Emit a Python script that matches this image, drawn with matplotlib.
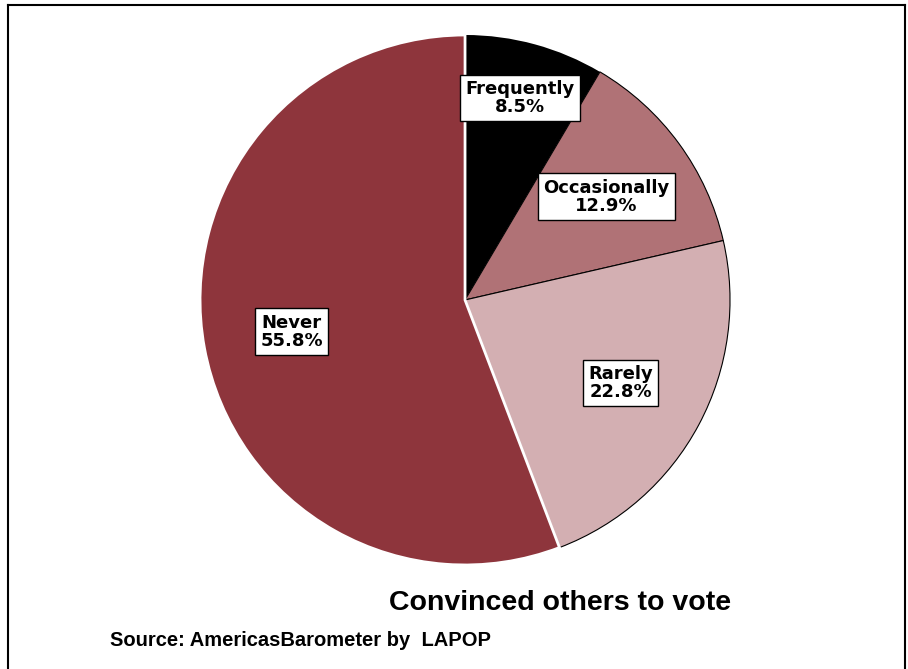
import numpy as np
import matplotlib.pyplot as plt
from matplotlib.lines import Line2D

categories = ["Frequently", "Occasionally", "Rarely", "Never"]
values = [8.5, 12.9, 22.8, 55.8]
colors = ["#000000", "#B07276", "#D3AFB2", "#8E353C"]
edge_colors = ["none", "black", "black", "white"]
edge_widths = [0, 0.8, 0.8, 2]
label_dist = [0.79, 0.66, 0.665, 0.665]

title = "Convinced others to vote"
source = "Source: AmericasBarometer by  LAPOP"

fig = plt.figure(figsize=(9.08, 6.69), dpi=100)
ax = fig.add_axes([0.2203, 0.1555, 0.5837, 0.7922])

wedges, _ = ax.pie(values, colors=colors, startangle=90, counterclock=False, radius=1)
for w, ec, lw in zip(wedges, edge_colors, edge_widths):
    w.set_edgecolor(ec)
    w.set_linewidth(lw)
ax.set_xlim(-1, 1)
ax.set_ylim(-1, 1)
ax.set_aspect("equal")

# labels in white boxes at each slice's middle angle
for w, cat, val, d in zip(wedges, categories, values, label_dist):
    ang = np.deg2rad((w.theta1 + w.theta2) / 2)
    ax.text(d * np.cos(ang), d * np.sin(ang), f"{cat}\n{val:.1f}%",
            ha="center", va="center", fontsize=13, fontweight="bold",
            family="DejaVu Sans", linespacing=1.0,
            bbox=dict(boxstyle="square,pad=0.3", facecolor="white",
                      edgecolor="black", linewidth=1))

fig.text(560 / 908, 1 - 603 / 669, title, ha="center", va="center",
         fontsize=20.5, fontweight="bold", family="Liberation Sans")
fig.text(110 / 908, 1 - 640 / 669, source, ha="left", va="center",
         fontsize=14.5, fontweight="bold", family="Liberation Sans")

# frame (no bottom edge visible)
x0, x1, y0 = 8 / 908, 905 / 908, 1 - 5 / 669
for xs, ys in [([x0, x0], [0, y0]), ([x0, x1], [y0, y0]), ([x1, x1], [y0, 0])]:
    fig.add_artist(Line2D(xs, ys, color="black", linewidth=1.5,
                          transform=fig.transFigure))

plt.savefig("out.png", dpi=100)
